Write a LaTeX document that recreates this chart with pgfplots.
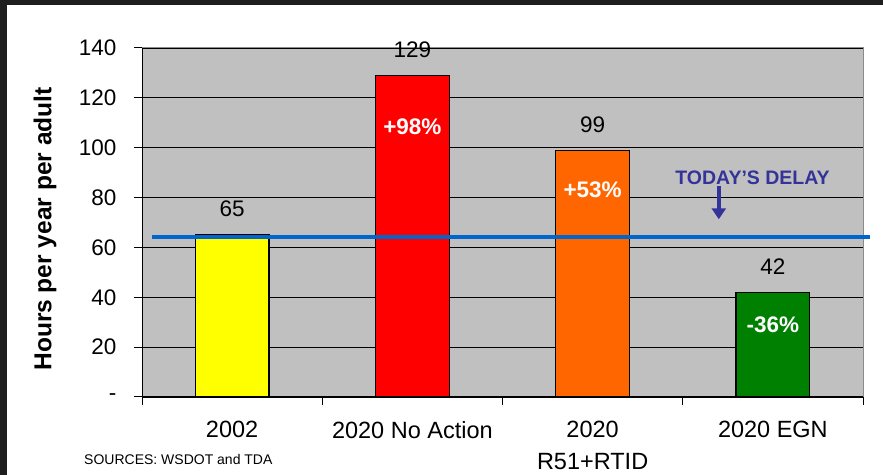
\documentclass[border=0pt]{standalone}
\usepackage{pgfplots}
\pgfplotsset{compat=1.18}
\usepackage{fontspec}
\setmainfont{Liberation Sans}
\usetikzlibrary{arrows.meta}
\definecolor{plotgray}{HTML}{C0C0C0}
\definecolor{framegray}{HTML}{8C8C8C}
\definecolor{baryellow}{HTML}{FFFF00}
\definecolor{barred}{HTML}{FF0000}
\definecolor{barorange}{HTML}{FF6600}
\definecolor{bargreen}{HTML}{008000}
\definecolor{lineblue}{HTML}{0066CC}
\definecolor{delayblue}{HTML}{333399}
\definecolor{framedark}{HTML}{1E1E1E}
\newcommand{\bigfont}{\fontsize{22.5bp}{27bp}\selectfont}
\newcommand{\catfont}{\fontsize{23.5bp}{32bp}\selectfont}
\begin{document}
\begin{tikzpicture}
\useasboundingbox (0,0) rectangle (883bp,475bp);
\fill[framedark] (0,0) rectangle (883bp,475bp);
\fill[white] (7bp,0) rectangle (883bp,470bp);
\begin{axis}[
  at={(142bp,78bp)}, anchor=south west,
  scale only axis, width=721bp, height=349bp,
  xmin=0, xmax=4, ymin=0, ymax=140,
  clip=false,
  axis background/.style={fill=plotgray, draw=framegray, line width=1bp},
  axis x line*=bottom, axis y line*=left,
  axis line style={black, line width=1bp, -},
  tick align=outside,
  major tick length=8bp,
  minor tick length=8bp,
  tick style={black, line width=1bp},
  xtick={0.5,1.5,2.5,3.5},
  xticklabels={2002, 2020 No Action, {2020\\R51+RTID}, 2020 EGN},
  major x tick style={draw=none},
  minor xtick={0,1,2,3,4},
  ytick={0,20,40,60,80,100,120,140},
  yticklabels={{-\hspace{24bp}},20,40,60,80,100,120,140},
  ymajorgrids,
  grid style={black, line width=0.9bp},
  yticklabel style={font=\bigfont, anchor=east, xshift=-14bp},
  xticklabel style={font=\catfont, align=center, anchor=north, yshift=-13bp},
  /pgf/number format/assume math mode=true,
  every node near coord/.append style={font=\bigfont, anchor=south, yshift=14bp, black},
]
\addplot[ybar, bar shift=0pt, bar width=0.41, fill=baryellow, draw=black, line width=1.3bp, nodes near coords] coordinates {(0.5,65)};
\addplot[ybar, bar shift=0pt, bar width=0.41, fill=barred, draw=black, line width=1.3bp, nodes near coords] coordinates {(1.5,129)};
\addplot[ybar, bar shift=0pt, bar width=0.41, fill=barorange, draw=black, line width=1.3bp, nodes near coords] coordinates {(2.5,99)};
\addplot[ybar, bar shift=0pt, bar width=0.41, fill=bargreen, draw=black, line width=1.3bp, nodes near coords] coordinates {(3.5,42)};
\addplot[sharp plot, no marks, lineblue, line width=4bp] coordinates {(0.055,64.3) (4.04,64.3)};
\node[font=\bfseries\bigfont, white] at (axis cs:1.5,108.4) {+98\%};
\node[font=\bfseries\bigfont, white] at (axis cs:2.5,83.1) {+53\%};
\node[font=\bfseries\bigfont, white] at (axis cs:3.5,28.9) {-36\%};
\node[font=\bfseries\fontsize{19.5bp}{23bp}\selectfont, delayblue] at (axis cs:3.387,88.1) {TODAY’S DELAY};
\draw[delayblue, line width=4bp, -{Triangle[width=14bp,length=11bp]}] (axis cs:3.2,84.7) -- (axis cs:3.2,71.3);
\end{axis}
\node[rotate=90, font=\bfseries\fontsize{24.5bp}{28bp}\selectfont] at (45bp,246bp) {Hours per year per adult};
\node[anchor=west, font=\fontsize{14bp}{17bp}\selectfont, inner sep=0pt] at (84bp,16bp) {SOURCES: WSDOT and TDA};
\end{tikzpicture}
\end{document}
